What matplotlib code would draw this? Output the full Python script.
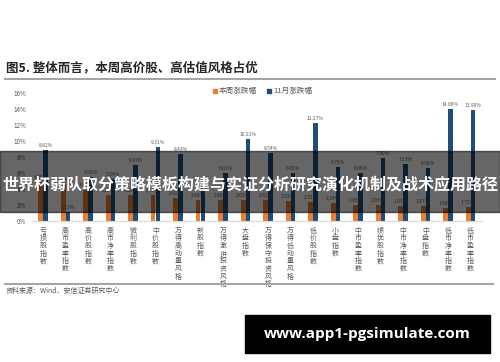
import matplotlib
matplotlib.use("Agg")
import numpy as np
import matplotlib.pyplot as plt
from matplotlib.patches import Rectangle

plt.rcParams['font.family'] = ['Noto Sans CJK SC', 'DejaVu Sans']

categories = ['亏损股指数', '高市盈率指数', '高价股指数', '高市净率指数', '微利股指数',
              '中价股指数', '万得高动量风格', '新股指数', '万得激进投资风格', '大盘指数',
              '万得保守投资风格', '万得低动量风格', '低价股指数', '小盘指数', '中市盈率指数',
              '绩优股指数', '中市净率指数', '中盘指数', '低市净率指数', '低市盈率指数']
week_chg = [4.85, 4.60, 3.90, 3.25, 3.22, 3.20, 2.92, 2.68, 2.66, 2.65,
            2.62, 2.53, 2.32, 2.24, 2.05, 2.03, 1.93, 1.87, 1.66, 1.72]
nov_chg = [8.82, 1.13, 5.50, 5.24, 6.97, 9.31, 8.43, 4.60, 6.01, 10.21,
           8.54, 6.00, 12.27, 6.70, 6.06, 7.90, 7.13, 6.58, 14.06, 13.90]

orange = '#ED7D31'
blue = '#1F4E79'
grey = '#595959'

fig = plt.figure(figsize=(5, 3.62), dpi=100)
ax = fig.add_axes([0.0635, 0.3895, 0.9, 0.3535])

x = np.arange(len(categories))
w = 0.22
b1 = ax.bar(x - w / 2, week_chg, w, color=orange)
b2 = ax.bar(x + w / 2, nov_chg, w, color=blue)
for bars, vals in ((b1, week_chg), (b2, nov_chg)):
    for r, v in zip(bars, vals):
        ax.text(r.get_x() + r.get_width() / 2, v + 0.25, '%.2f%%' % v,
                ha='center', va='bottom', fontsize=3.5, color=grey)

ax.set_xlim(-0.5, len(categories) - 0.5)
ax.set_ylim(0, 16)
ax.set_yticks(range(0, 17, 2))
ax.set_yticklabels(['%d%%' % t for t in range(0, 17, 2)], fontsize=4.5, color=grey)
ax.set_xticks(x)
ax.set_xticklabels(['\n'.join(c) for c in categories], fontsize=5, color=grey,
                   linespacing=0.95, va='top')
ax.tick_params(length=0, pad=4)
for s in ('top', 'right', 'left'):
    ax.spines[s].set_visible(False)
ax.spines['bottom'].set_color('#D9D9D9')

# title and rules
fig.text(0.012, 0.812, '图5. 整体而言，本周高价股、高估值风格占优', fontsize=9,
         fontweight='bold', color='#262626', va='center')
fig.add_artist(plt.Line2D([0.01, 0.99], [1 - 79 / 362] * 2, color='#A6A6A6', lw=1.5))
fig.add_artist(plt.Line2D([0.01, 0.985], [1 - 284 / 362] * 2, color='#A6A6A6', lw=1.5))
fig.text(0.012, 1 - 291 / 362, '资料来源：Wind、安信证券研究中心', fontsize=5,
         style='italic', color=grey, va='center')

# legend
fig.add_artist(Rectangle((213 / 500, 1 - 93 / 362), 4 / 500, 4 / 362, color=orange,
                         transform=fig.transFigure))
fig.text(219 / 500, 1 - 91 / 362, '本周涨跌幅', fontsize=5.5, color=grey, va='center')
fig.add_artist(Rectangle((267 / 500, 1 - 93 / 362), 4 / 500, 4 / 362, color=blue,
                         transform=fig.transFigure))
fig.text(273 / 500, 1 - 91 / 362, '11月涨跌幅', fontsize=5.5, color=grey, va='center')

# overlay banner
fig.add_artist(Rectangle((0, 1 - 212 / 362), 1, 61 / 362, color='black', alpha=0.6,
                         transform=fig.transFigure, zorder=10))
fig.text(0.5, 1 - 184 / 362, '世界杯弱队取分策略模板构建与实证分析研究演化机制及战术应用路径',
         fontsize=11.5, fontweight='bold', color='white', ha='center', va='center', zorder=11)

# url box
fig.add_artist(Rectangle((245 / 500, 1 - 353 / 362), 245 / 500, 38 / 362, color='black',
                         transform=fig.transFigure, zorder=10))
fig.text(367 / 500, 1 - 334 / 362, 'www.app1-pgsimulate.com', fontsize=11,
         fontweight='bold', color='white', ha='center', va='center', zorder=11,
         family='Open Sans')

fig.savefig('out.png', dpi=100)
